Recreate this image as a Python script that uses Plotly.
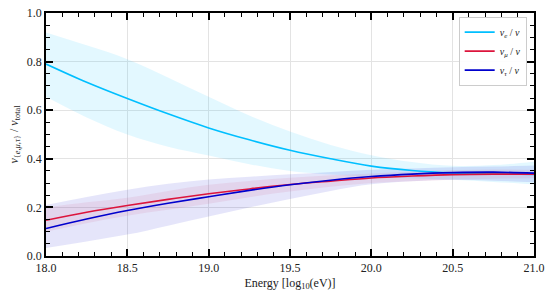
import plotly.graph_objects as go

energy = [18.0, 18.25, 18.5, 18.75, 19.0, 19.25, 19.5, 19.75, 20.0, 20.25, 20.5, 20.75, 21.0]

nue_mid = [0.79, 0.715, 0.648, 0.585, 0.527, 0.478, 0.435, 0.400, 0.370, 0.352, 0.342, 0.338, 0.336]
nue_hi = [0.92, 0.867, 0.81, 0.735, 0.655, 0.578, 0.512, 0.457, 0.415, 0.387, 0.371, 0.374, 0.388]
nue_lo = [0.655, 0.57, 0.50, 0.450, 0.414, 0.378, 0.350, 0.335, 0.326, 0.319, 0.314, 0.305, 0.295]

numu_mid = [0.147, 0.18, 0.208, 0.233, 0.256, 0.276, 0.294, 0.308, 0.321, 0.329, 0.335, 0.337, 0.337]
numu_hi = [0.20, 0.221, 0.24, 0.268, 0.293, 0.309, 0.322, 0.332, 0.34, 0.348, 0.354, 0.356, 0.355]
numu_lo = [0.10, 0.135, 0.166, 0.19, 0.215, 0.242, 0.265, 0.285, 0.30, 0.308, 0.314, 0.318, 0.32]

nutau_mid = [0.113, 0.152, 0.187, 0.217, 0.244, 0.27, 0.293, 0.312, 0.327, 0.337, 0.343, 0.345, 0.341]
nutau_hi = [0.21, 0.243, 0.273, 0.297, 0.315, 0.326, 0.336, 0.346, 0.355, 0.36, 0.365, 0.368, 0.372]
nutau_lo = [0.033, 0.06, 0.088, 0.125, 0.163, 0.2, 0.235, 0.268, 0.295, 0.308, 0.314, 0.31, 0.303]

names = ["<i>ν</i><sub><i>e</i></sub> / <i>ν</i>",
         "<i>ν</i><sub><i>μ</i></sub> / <i>ν</i>",
         "<i>ν</i><sub><i>τ</i></sub> / <i>ν</i>"]
colors = ["#00BFFF", "#DC143C", "#0000CD"]
fills = ["rgba(0,191,255,0.11)", "rgba(220,20,60,0.08)", "rgba(0,0,205,0.10)"]

series = [(nue_mid, nue_hi, nue_lo), (numu_mid, numu_hi, numu_lo), (nutau_mid, nutau_hi, nutau_lo)]

SERIF = "Liberation Serif, DejaVu Serif, serif"

fig = go.Figure()
for (mid, hi, lo), fc in zip(series, fills):
    fig.add_trace(go.Scatter(x=energy, y=hi, mode="lines", line=dict(width=0, shape="spline"),
                             showlegend=False, hoverinfo="skip"))
    fig.add_trace(go.Scatter(x=energy, y=lo, mode="lines", line=dict(width=0, shape="spline"),
                             fill="tonexty", fillcolor=fc, showlegend=False, hoverinfo="skip"))
for (mid, hi, lo), c, n in zip(series, colors, names):
    fig.add_trace(go.Scatter(x=energy, y=mid, mode="lines", name=n,
                             line=dict(color=c, width=1.6, shape="spline")))

fig.update_xaxes(
    range=[18.0, 21.0], tickmode="linear", tick0=18.0, dtick=0.5, tickformat=".1f",
    ticks="inside", ticklen=7, tickwidth=1.5, tickcolor="black",
    showline=True, linecolor="black", linewidth=1.6, mirror="ticks",
    showgrid=True, gridcolor="#e3e3e3", gridwidth=1, zeroline=False, automargin=False,
    tickfont=dict(family=SERIF, size=12, color="#222"),
    minor=dict(tickmode="linear", tick0=18.0, dtick=0.1, ticks="inside", ticklen=4,
               tickwidth=1.2, tickcolor="black", showgrid=False),
    title=dict(text="Energy [log<sub>10</sub>(eV)]", standoff=4,
               font=dict(family=SERIF, size=12, color="#222")),
)
fig.update_yaxes(
    range=[0.0, 1.0], tickmode="linear", tick0=0.0, dtick=0.2, tickformat=".1f",
    ticks="inside", ticklen=7, tickwidth=1.5, tickcolor="black",
    showline=True, linecolor="black", linewidth=1.6, mirror="ticks",
    showgrid=True, gridcolor="#e3e3e3", gridwidth=1, zeroline=False, automargin=False,
    tickfont=dict(family=SERIF, size=12, color="#222"),
    minor=dict(tickmode="linear", tick0=0.0, dtick=0.05, ticks="inside", ticklen=4,
               tickwidth=1.2, tickcolor="black", showgrid=False),
    title=dict(text="<i>ν</i><sub>{<i>e</i>,<i>μ</i>,<i>τ</i>}</sub> / <i>ν</i><sub>total</sub>",
               standoff=6, font=dict(family=SERIF, size=12, color="#222")),
)

fig.update_layout(
    width=554, height=296,
    margin=dict(l=46, r=20, t=13, b=40, autoexpand=False),
    plot_bgcolor="white", paper_bgcolor="white",
    font=dict(family=SERIF, size=12, color="#222"),
    legend=dict(x=0.985, y=0.985, xanchor="right", yanchor="top", traceorder="normal",
                bgcolor="rgba(255,255,255,0.9)", bordercolor="#cccccc", borderwidth=1,
                font=dict(family=SERIF, size=10), itemwidth=30,
                tracegroupgap=0),
)

fig.write_html("out.html", config={"displayModeBar": False},
               post_script="document.body.style.margin='0';document.body.style.overflow='hidden';")
